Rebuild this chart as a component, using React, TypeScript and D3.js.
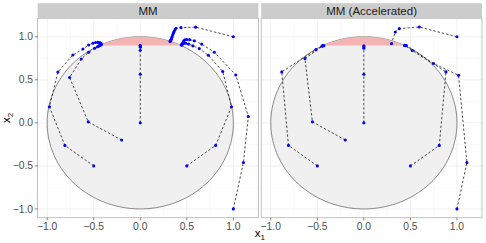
import React from 'react';
import * as d3 from 'd3';

type Pt = [number, number];

// facet labels
const panelTitles = ['MM', 'MM (Accelerated)'];

// tick values / labels
const majorBreaks = [-1, -0.5, 0, 0.5, 1];
const minorBreaksX = [-0.75, -0.25, 0.25, 0.75, 1.25];
const minorBreaksY = [-0.75, -0.25, 0.25, 0.75];
const tickLabels = ['\u22121.0', '\u22120.5', '0.0', '0.5', '1.0'];

// constraint: unit disk, cap above this height
const capHeight = 0.9;

// MM iterates (one array per starting point)
const mmFromOrigin: Pt[] = [[0, 0], [0, 0.565], [0, 0.843], [0, 0.88], [0, 0.892], [0, 0.897], [0, 0.899]];
const mmFromA: Pt[] = [[-0.2, -0.2], [-0.559, 0.012], [-0.759, 0.527], [-0.634, 0.742], [-0.555, 0.82], [-0.49, 0.867], [-0.46, 0.885], [-0.445, 0.894], [-0.438, 0.898]];
const mmFromB: Pt[] = [[-0.5, -0.5], [-0.81, -0.262], [-0.976, 0.188], [-0.885, 0.59], [-0.724, 0.789], [-0.616, 0.858], [-0.555, 0.905], [-0.51, 0.925], [-0.48, 0.933], [-0.455, 0.935], [-0.435, 0.932], [-0.42, 0.922], [-0.418, 0.912], [-0.425, 0.905], [-0.432, 0.901]];
const mmFromC: Pt[] = [[0.5, -0.5], [0.81, -0.262], [0.98, 0.188], [0.886, 0.596], [0.731, 0.785], [0.634, 0.863], [0.565, 0.895], [0.52, 0.915], [0.49, 0.925], [0.47, 0.925], [0.455, 0.918], [0.445, 0.91], [0.44, 0.904]];
const mmFromD: Pt[] = [[1, -1], [1.108, -0.46], [1.161, 0.074], [1.026, 0.557], [0.796, 0.82], [0.66, 0.915], [0.58, 0.955], [0.53, 0.967], [0.5, 0.968], [0.48, 0.965], [0.468, 0.955], [0.46, 0.94], [0.455, 0.925], [0.45, 0.912], [0.445, 0.905]];
const mmFromE: Pt[] = [[1, 1], [0.595, 1.112], [0.438, 1.107], [0.384, 1.099], [0.372, 1.08], [0.362, 1.06], [0.355, 1.04], [0.348, 1.02], [0.342, 1.0], [0.337, 0.985], [0.332, 0.972], [0.328, 0.962], [0.325, 0.955], [0.322, 0.95], [0.32, 0.946]];

// accelerated MM iterates
const accFromOrigin: Pt[] = [[0, 0], [0, 0.565], [0, 0.868], [0, 0.885], [0, 0.895]];
const accFromA: Pt[] = [[-0.2, -0.2], [-0.553, 0.012], [-0.633, 0.747], [-0.445, 0.893], [-0.437, 0.899]];
const accFromB: Pt[] = [[-0.5, -0.5], [-0.81, -0.262], [-0.882, 0.592], [-0.515, 0.851], [-0.45, 0.892], [-0.43, 0.897]];
const accFromC: Pt[] = [[0.5, -0.5], [0.81, -0.262], [0.882, 0.592], [0.52, 0.84], [0.445, 0.897], [0.438, 0.9]];
const accFromD: Pt[] = [[1, -1], [1.107, -0.46], [1.017, 0.553], [0.748, 0.69], [0.455, 0.9], [0.44, 0.902]];
const accFromE: Pt[] = [[1, 1], [0.595, 1.114], [0.38, 1.095], [0.337, 1.056], [0.297, 0.921]];

const panelPaths: Pt[][][] = [
  [mmFromOrigin, mmFromA, mmFromB, mmFromC, mmFromD, mmFromE],
  [accFromOrigin, accFromA, accFromB, accFromC, accFromD, accFromE],
];

const W = 486;
const H = 243;
const panelTop = 18.3;
const panelBottom = 217.7;
const stripTop = 3.2;
const panelW = 220.8;
const panelLefts = [37.6, 261.2];
const font = '"Liberation Sans", Arial, Helvetica, sans-serif';

const Panel = ({ idx }: { idx: number }) => {
  const left = panelLefts[idx];
  const x = d3.scaleLinear().domain([-1.103, 1.269]).range([left, left + panelW]);
  const y = d3.scaleLinear().domain([-1.102, 1.215]).range([panelBottom, panelTop]);

  const angles = d3.range(0, 361, 2).map(a => (a * Math.PI) / 180);
  const circle = d3.line<number>().x(a => x(Math.cos(a))).y(a => y(Math.sin(a)))(angles) + 'Z';
  const a0 = Math.asin(capHeight);
  const capAngles = d3.range(0, 41).map(i => a0 + ((Math.PI - 2 * a0) * i) / 40);
  const cap = d3.line<number>().x(a => x(Math.cos(a))).y(a => y(Math.sin(a)))(capAngles) + 'Z';
  const line = d3.line<Pt>().x(d => x(d[0])).y(d => y(d[1]));

  return (
    <g>
      <clipPath id={`clip${idx}`}>
        <rect x={left} y={panelTop} width={panelW} height={panelBottom - panelTop} />
      </clipPath>
      <rect x={left} y={panelTop} width={panelW} height={panelBottom - panelTop} fill="#fff" />
      <g clipPath={`url(#clip${idx})`}>
        {minorBreaksX.map(v => (
          <line key={'mx' + v} x1={x(v)} x2={x(v)} y1={panelTop} y2={panelBottom} stroke="#f4f4f4" strokeWidth={0.5} />
        ))}
        {minorBreaksY.map(v => (
          <line key={'my' + v} y1={y(v)} y2={y(v)} x1={left} x2={left + panelW} stroke="#f4f4f4" strokeWidth={0.5} />
        ))}
        {majorBreaks.map(v => (
          <line key={'gx' + v} x1={x(v)} x2={x(v)} y1={panelTop} y2={panelBottom} stroke="#ebebeb" strokeWidth={0.7} />
        ))}
        {majorBreaks.map(v => (
          <line key={'gy' + v} y1={y(v)} y2={y(v)} x1={left} x2={left + panelW} stroke="#ebebeb" strokeWidth={0.7} />
        ))}
        <path d={circle} fill="#f0f0f0" stroke="#5a5a5a" strokeWidth={0.7} />
        <path d={cap} fill="#f4b4b4" stroke="none" />
        {panelPaths[idx].map((p, i) => (
          <path key={'l' + i} d={line(p) || ''} fill="none" stroke="#000" strokeWidth={0.7} strokeDasharray="2.4,2" />
        ))}
        {panelPaths[idx].map((p, i) =>
          p.map((d, j) => <circle key={`p${i}-${j}`} cx={x(d[0])} cy={y(d[1])} r={1.55} fill="#0000ff" />)
        )}
      </g>
      <rect x={left} y={panelTop} width={panelW} height={panelBottom - panelTop} fill="none" stroke="#b3b3b3" strokeWidth={0.8} />
      <rect x={left} y={stripTop} width={panelW} height={panelTop - stripTop} fill="#cccccc" />
      <text x={left + panelW / 2} y={(stripTop + panelTop) / 2 + 4} textAnchor="middle" fontSize={11.5} fill="#1a1a1a" fontFamily={font}>
        {panelTitles[idx]}
      </text>
      {majorBreaks.map((v, i) => (
        <g key={'tx' + v}>
          <line x1={x(v)} x2={x(v)} y1={panelBottom} y2={panelBottom + 2.7} stroke="#333" strokeWidth={0.6} />
          <text x={x(v)} y={panelBottom + 12.3} textAnchor="middle" fontSize={10.3} fill="#4d4d4d" fontFamily={font}>
            {tickLabels[i]}
          </text>
        </g>
      ))}
      {idx === 0 &&
        majorBreaks.map((v, i) => (
          <g key={'ty' + v}>
            <line x1={left - 2.7} x2={left} y1={y(v)} y2={y(v)} stroke="#333" strokeWidth={0.6} />
            <text x={left - 4.5} y={y(v) + 3.6} textAnchor="end" fontSize={10.3} fill="#4d4d4d" fontFamily={font}>
              {tickLabels[i]}
            </text>
          </g>
        ))}
    </g>
  );
};

const App = () => {
  const midX = (panelLefts[0] + panelLefts[1] + panelW) / 2;
  const midY = (panelTop + panelBottom) / 2;
  return (
    <svg width={W} height={H} style={{ position: 'absolute', left: 0, top: 0, background: '#fff' }}>
      <rect width={W} height={H} fill="#fff" />
      <Panel idx={0} />
      <Panel idx={1} />
      <text x={midX} y={237} textAnchor="middle" fontSize={11.5} fontFamily={font} fill="#000">
        x<tspan fontSize={8} dy={3}>1</tspan>
      </text>
      <text transform={`translate(10,${midY}) rotate(-90)`} textAnchor="middle" fontSize={11.5} fontFamily={font} fill="#000">
        x<tspan fontSize={8} dy={3}>2</tspan>
      </text>
    </svg>
  );
};

export default App;
